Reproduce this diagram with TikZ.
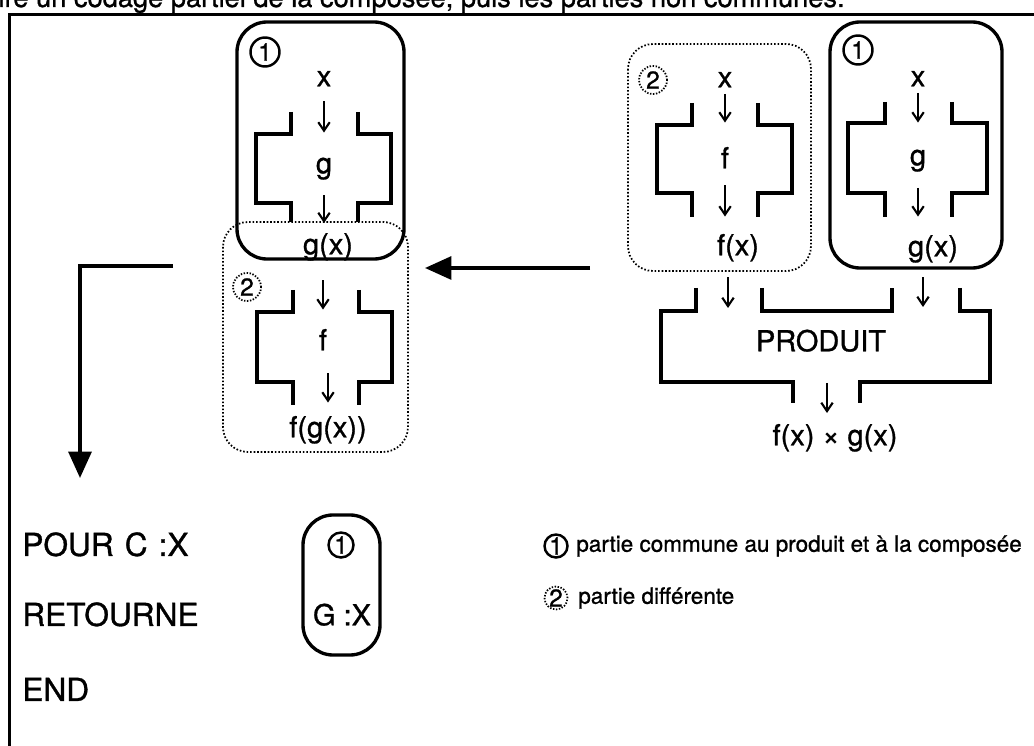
\documentclass[tikz,border=0pt]{standalone}
\usepackage{fontspec}
\setmainfont{TeX Gyre Heros}[FakeBold=1]
\usetikzlibrary{arrows.meta}

\begin{document}
\begin{tikzpicture}[x=0.02cm, y=-0.02cm]
  \tikzset{
    caja_comun/.style={draw, line width=1.9pt, rounded corners=0.6cm},
    caja_dif/.style={draw, line width=1pt, dash pattern=on 0.9pt off 1.1pt, rounded corners=0.5cm},
    num_comun/.style={circle, draw, line width=1.4pt, minimum size=0.58cm, inner sep=0pt, font=\fontsize{14}{14}\selectfont},
    num_dif/.style={circle, draw, line width=1pt, dash pattern=on 0.8pt off 0.9pt, minimum size=0.56cm, inner sep=0pt, font=\fontsize{14}{14}\selectfont},
    etiqueta/.style={inner sep=0pt, text height=11.9pt, text depth=3.6pt, font=\fontsize{16.5}{20}\selectfont},
    texto/.style={inner sep=0pt, text height=12.9pt, text depth=3.9pt, anchor=west, font=\fontsize{18}{21}\selectfont},
    leyenda/.style={inner sep=0pt, anchor=west, font=\fontsize{12.8}{15}\selectfont},
    funcion/.style={line width=1.9pt},
    flecha/.style={-{Straight Barb[length=4.8pt,width=6.5pt]}, line width=1.2pt},
    flecha_grande/.style={-{Triangle[length=15pt,width=13pt]}, line width=2pt}
  }

  % Marco y título cortado
  \useasboundingbox (0,0) rectangle (1034,746);
  \node[anchor=base east, inner sep=0pt, font=\fontsize{15.5}{18}\selectfont] (titulo) at (845,7)
    {ire un codage partiel de la composée, puis les parties non communes.};
  \draw[line width=2pt] (1034,14.5) -- (9.5,14.5) -- (9.5,746);

  % Cajas redondeadas: 1 = parte común, 2 = parte diferente
  \draw[caja_comun] (237,22) rectangle (404,259);
  \draw[caja_dif] (223,222) rectangle (408,452);
  \draw[caja_dif] (628,44) rectangle (811,271);
  \draw[caja_comun] (830,22) rectangle (1002,268);
  \draw[caja_comun] (303,515) rectangle (380,655);

  % Composición: g y luego f
  \draw[funcion] (291,112) -- (291,134) -- (256,134) -- (256,203) -- (291,203) -- (291,222);
  \draw[funcion] (358,112) -- (358,134) -- (391,134) -- (391,203) -- (358,203) -- (358,222);
  \draw[funcion] (293,290) -- (293,312) -- (257,312) -- (257,382) -- (293,382) -- (293,405);
  \draw[funcion] (359,290) -- (359,312) -- (392,312) -- (392,382) -- (359,382) -- (359,405);

  \node[num_comun] (uno_a) at (265,52) {1};
  \node[etiqueta] (x_a) at (324,79) {x};
  \node[etiqueta] (g_a) at (324,166) {g};
  \node[etiqueta] (gx_a) at (328,247) {g(x)};
  \node[num_dif] (dos_a) at (247,287) {2};
  \node[etiqueta] (f_a) at (323,343) {f};
  \node[etiqueta] (fgx) at (328,430) {f(g(x))};

  \draw[flecha, shorten <=0.17cm, shorten >=0.39cm] (x_a) -- (g_a);
  \draw[flecha, shorten <=0.31cm, shorten >=0.2cm] (g_a) -- (g_a |- gx_a.north);
  \draw[flecha, shorten <=0.39cm, shorten >=0.39cm] (f_a |- gx_a.south) -- (f_a);
  \draw[flecha, shorten <=0.33cm, shorten >=0.27cm] (fgx |- f_a.south) -- (fgx);

  % Producto: f y g en paralelo
  \draw[funcion] (692,103) -- (692,125) -- (657,125) -- (657,193) -- (692,193) -- (692,217);
  \draw[funcion] (758,103) -- (758,125) -- (792,125) -- (792,193) -- (758,193) -- (758,217);
  \draw[funcion] (885,102) -- (885,123) -- (848,123) -- (848,193) -- (885,193) -- (885,217);
  \draw[funcion] (952,102) -- (952,123) -- (987,123) -- (987,193) -- (952,193) -- (952,217);

  \node[num_dif] (dos_b) at (653,80) {2};
  \node[etiqueta] (x_b) at (725,80) {x};
  \node[etiqueta] (f_b) at (725,161) {f};
  \node[etiqueta] (fx) at (738,248) {f(x)};
  \node[num_comun] (uno_b) at (858,50) {1};
  \node[etiqueta] (x_c) at (918,79) {x};
  \node[etiqueta] (g_c) at (918,158) {g};
  \node[etiqueta] (gx_c) at (933,249) {g(x)};

  \draw[flecha, shorten >=0.49cm] (x_b) -- (f_b);
  \draw[flecha, shorten <=0.21cm, shorten >=0.35cm] (f_b) -- (f_b |- fx.north);
  \draw[flecha, shorten >=0.43cm] (x_c) -- (g_c);
  \draw[flecha, shorten <=0.32cm, shorten >=0.37cm] (g_c) -- (g_c |- gx_c.north);

  % Caja PRODUIT
  \draw[funcion] (696,288) -- (696,311) -- (661,311) -- (661,382) -- (793,382) -- (793,403);
  \draw[funcion] (762,288) -- (762,311) -- (892,311) -- (892,288);
  \draw[funcion] (960,288) -- (960,311) -- (990,311) -- (990,382) -- (860,382) -- (860,403);

  \node[etiqueta] (produit) at (821,344) {PRODUIT};
  \node[etiqueta] (fxgx) at (835,438) {f(x) × g(x)};

  \coordinate (ent_f) at (728,308);
  \coordinate (ent_g) at (923,307);
  \coordinate (sal_p) at (827,413);
  \draw[flecha, shorten <=0.31cm] (fx.south -| ent_f) -- (ent_f);
  \draw[flecha, shorten <=0.29cm] (gx_c.south -| ent_g) -- (ent_g);
  \draw[flecha, shorten <=0.5cm] (produit.south -| sal_p) -- (sal_p);

  % Flechas grandes
  \coordinate (ini_med) at (590,268);
  \coordinate (fin_med) at (425,268);
  \draw[flecha_grande] (ini_med) -- (fin_med);
  \coordinate (ini_izq) at (173,266);
  \coordinate (fin_izq) at (80,478);
  \draw[flecha_grande] (ini_izq) -| (fin_izq);

  % Procedimiento
  \node[texto] (pour) at (22,548) {POUR\hspace{0.35em}C\hspace{0.35em}:X};
  \node[texto] (retourne) at (22,618) {RETOURNE};
  \node[texto] (fin) at (22,693) {END};
  \node[num_comun, minimum size=0.5cm] (uno_c) at (341,545) {1};
  \node[etiqueta] (g_x) at (342,618) {G :X};

  % Leyenda
  \node[num_comun, minimum size=0.46cm] (ley_uno) at (556,546) {1};
  \node[leyenda] (txt_uno) at (576,546) {partie commune au produit et à la composée};
  \node[num_dif, minimum size=0.46cm] (ley_dos) at (556,598) {2};
  \node[leyenda] (txt_dos) at (578,598) {partie différente};
\end{tikzpicture}
\end{document}
